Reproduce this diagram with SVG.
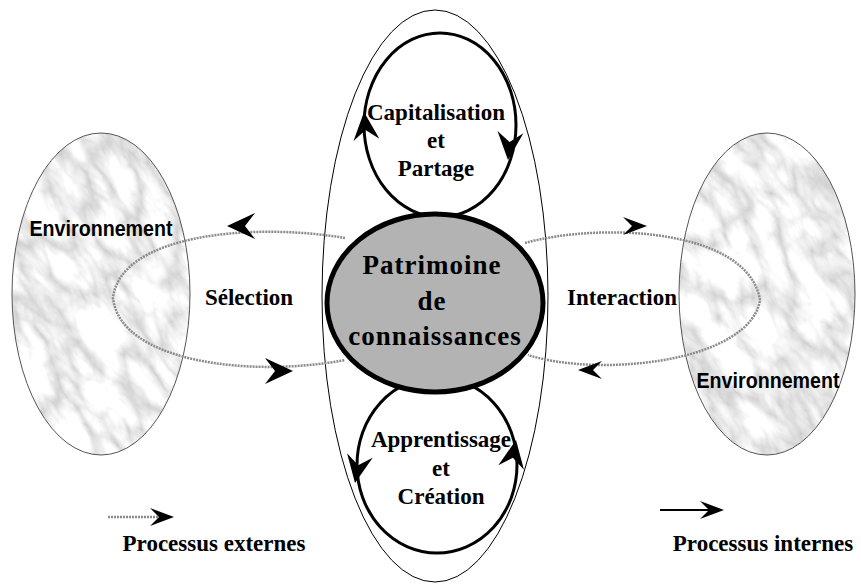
<svg xmlns="http://www.w3.org/2000/svg" width="861" height="587" viewBox="0 0 861 587">
<style>
.lbl{font-family:"Liberation Serif","Times New Roman",serif;font-weight:bold;fill:#000;text-anchor:middle}
.env{font-family:"Liberation Sans",Arial,sans-serif;font-weight:bold;font-size:22px;fill:#000;text-anchor:middle}
.ext{fill:none;stroke:#8a8a8a;stroke-width:2.5;stroke-dasharray:2 1}
.int{fill:none;stroke:#000;stroke-width:3}
.head{fill:#000}
</style>
<defs>
<path id="ah" d="M0,0 L-28,-13 L-18,0 L-28,13 Z"/>
<path id="ahs" d="M0,0 L-24,-9 L-15,0 L-24,9 Z"/>
<filter id="marble" x="0" y="0" width="1" height="1">
<feTurbulence type="turbulence" baseFrequency="0.035 0.014" numOctaves="4" seed="11" result="t"/>
<feColorMatrix in="t" type="matrix" values="0.9 0 0 0 0.6 0.9 0 0 0 0.6 0.9 0 0 0 0.6 0 0 0 0 1"/>
</filter>
<clipPath id="clipL"><ellipse cx="101" cy="294" rx="89" ry="161"/></clipPath>
<clipPath id="clipR"><ellipse cx="767" cy="294" rx="88" ry="161"/></clipPath>
</defs>
<rect width="861" height="587" fill="#fff"/>

<g id="env-left">
<g clip-path="url(#clipL)"><rect x="-120" y="60" width="440" height="470" filter="url(#marble)" transform="rotate(-35 101 294)"/></g>
<ellipse cx="101" cy="294" rx="89" ry="161" fill="none" stroke="#555" stroke-width="1"/>
<text class="env" x="101" y="236" textLength="143" lengthAdjust="spacingAndGlyphs">Environnement</text>
</g>

<g id="env-right">
<g clip-path="url(#clipR)"><rect x="547" y="60" width="440" height="470" filter="url(#marble)" transform="rotate(-35 767 294)"/></g>
<ellipse cx="767" cy="294" rx="88" ry="161" fill="none" stroke="#555" stroke-width="1"/>
<text class="env" x="768" y="388" textLength="143" lengthAdjust="spacingAndGlyphs">Environnement</text>
</g>

<g id="outer">
<ellipse cx="435" cy="296" rx="113" ry="286" fill="none" stroke="#000" stroke-width="1"/>
</g>

<g id="connectors">
<ellipse class="int" cx="440" cy="125" rx="76" ry="92"/>
<ellipse class="int" cx="437" cy="465" rx="80" ry="88"/>
<path class="ext" d="M345,238 C250,222 120,235 113,298 C120,362 250,378 345,360"/>
<path class="ext" d="M525,243 C600,222 748,228 760,300 C750,362 600,378 528,355"/>
<use href="#ah" class="head" transform="translate(364,112) rotate(-95)"/>
<use href="#ah" class="head" transform="translate(508,160) rotate(95)"/>
<use href="#ah" class="head" transform="translate(355,483) rotate(100)"/>
<use href="#ah" class="head" transform="translate(516,440) rotate(-80)"/>
<use href="#ah" class="head" transform="translate(227,226) rotate(180)"/>
<use href="#ah" class="head" transform="translate(293,371) rotate(0)"/>
<use href="#ahs" class="head" transform="translate(647,226) rotate(0)"/>
<use href="#ahs" class="head" transform="translate(578,370) rotate(180)"/>
</g>

<g id="patrimoine">
<ellipse cx="435" cy="303" rx="108" ry="89" fill="#b3b3b3" stroke="#000" stroke-width="5"/>
<text class="lbl" x="432" y="274" font-size="27" letter-spacing="1">Patrimoine</text>
<text class="lbl" x="432" y="310" font-size="27" letter-spacing="1">de</text>
<text class="lbl" x="435" y="345" font-size="27" letter-spacing="1">connaissances</text>
</g>

<g id="capitalisation">
<text class="lbl" x="436" y="120" font-size="23">Capitalisation</text>
<text class="lbl" x="436" y="148" font-size="23">et</text>
<text class="lbl" x="436" y="176" font-size="23">Partage</text>
</g>

<g id="apprentissage">
<text class="lbl" x="441" y="447" font-size="23">Apprentissage</text>
<text class="lbl" x="441" y="476" font-size="23">et</text>
<text class="lbl" x="441" y="504" font-size="23">Création</text>
</g>

<g id="selection"><text class="lbl" x="249" y="305" font-size="23">Sélection</text></g>
<g id="interaction"><text class="lbl" x="622" y="305" font-size="23">Interaction</text></g>

<g id="legend-ext">
<line class="ext" x1="108" y1="517" x2="160" y2="517" stroke-width="2"/>
<use href="#ahs" class="head" transform="translate(174,517)"/>
<text class="lbl" x="214" y="551" font-size="23">Processus externes</text>
</g>
<g id="legend-int">
<line x1="660" y1="510" x2="712" y2="510" stroke="#000" stroke-width="2"/>
<use href="#ahs" class="head" transform="translate(724,510)"/>
<text class="lbl" x="763" y="551" font-size="23">Processus internes</text>
</g>
</svg>
